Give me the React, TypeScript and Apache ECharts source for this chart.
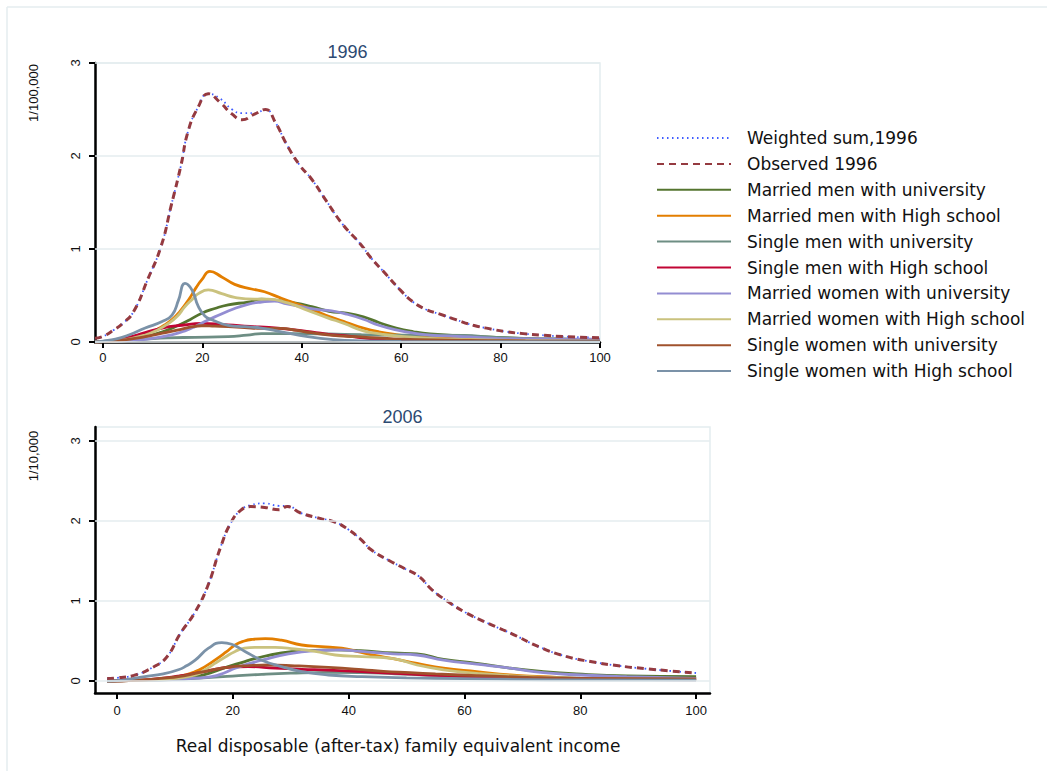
import React, { useEffect, useRef } from "react";
import * as echarts from "echarts";

// ---------- labels ----------
const seriesNames = [
  "Weighted sum,1996",
  "Observed 1996",
  "Married men with university",
  "Married men with High school",
  "Single men with university",
  "Single men with High school",
  "Married women with university",
  "Married women with High school",
  "Single women with university",
  "Single women with High school",
];
const panelTitles = ["1996", "2006"];
const yUnitLabels = ["1/100,000", "1/10,000"];
const xAxisTitle = "Real disposable (after-tax) family equivalent income";
const xTicks = [0, 20, 40, 60, 80, 100];
const yTicks = [0, 1, 2, 3];

// ---------- 1996 panel ----------
const weighted96 = [[-1.6,0.04],[0,0.06],[2.2,0.13],[4,0.2],[6.2,0.33],[8.9,0.66],[11.7,1.03],[13.7,1.46],[15.7,1.9],[17.1,2.26],[19.1,2.52],[21.2,2.67],[23.5,2.62],[26,2.5],[28,2.46],[30.5,2.46],[32.7,2.5],[34.7,2.36],[37,2.12],[39.6,1.9],[42,1.75],[44.9,1.52],[48.3,1.26],[51.7,1.06],[54,0.9],[56.4,0.76],[59.8,0.56],[62.4,0.43],[65,0.35],[67.8,0.3],[71,0.24],[74.5,0.18],[78,0.14],[81.2,0.11],[84.5,0.09],[87.9,0.075],[93.3,0.057],[100,0.045]];
const observed96 = [[-1.6,0.04],[0,0.06],[2.2,0.13],[4,0.2],[6.2,0.33],[8.9,0.66],[11.7,1.03],[13.7,1.46],[15.7,1.9],[17.1,2.26],[19.1,2.52],[21.2,2.67],[23.5,2.58],[26,2.45],[28,2.39],[30.5,2.45],[32.7,2.5],[34.7,2.36],[37,2.12],[39.6,1.9],[42,1.75],[44.9,1.52],[48.3,1.26],[51.7,1.06],[54,0.9],[56.4,0.76],[59.8,0.56],[62.4,0.43],[65,0.35],[67.8,0.3],[71,0.24],[74.5,0.18],[78,0.14],[81.2,0.11],[84.5,0.09],[87.9,0.075],[93.3,0.057],[100,0.045]];
const mmUni96 = [[-1.6,0],[0,0.005],[4,0.02],[8.5,0.06],[12,0.11],[15.2,0.18],[17.5,0.24],[19.9,0.31],[22.5,0.36],[25.2,0.4],[29.2,0.43],[31.9,0.46],[34.5,0.45],[38.5,0.42],[42,0.38],[45.5,0.33],[49,0.31],[52.4,0.27],[55.5,0.21],[59,0.15],[62.5,0.11],[65.8,0.086],[72.5,0.065],[79.3,0.05],[86,0.036],[93,0.03],[100,0.02]];
const mmHS96 = [[-1.6,0],[0,0.005],[3,0.02],[5.2,0.04],[7.5,0.07],[9.9,0.11],[12,0.17],[13.9,0.24],[15.5,0.33],[17.2,0.45],[18.8,0.59],[19.9,0.67],[21.5,0.76],[23.9,0.7],[26.5,0.62],[29.9,0.57],[32.5,0.54],[35.9,0.47],[38.5,0.42],[42.5,0.34],[45.7,0.27],[49,0.21],[52.4,0.15],[55.5,0.11],[59,0.08],[62.5,0.06],[66,0.047],[72,0.035],[80,0.025],[90,0.015],[100,0.01]];
const smUni96 = [[-1.6,0],[0,0.003],[4,0.012],[8.5,0.03],[13,0.045],[18.5,0.05],[25.2,0.057],[29,0.075],[31.9,0.09],[38.5,0.09],[45.2,0.086],[52,0.078],[58,0.075],[65.8,0.075],[72.5,0.07],[79,0.05],[86,0.037],[93,0.03],[100,0.02]];
const smHS96 = [[-1.6,0],[0,0.005],[2.5,0.015],[5.2,0.05],[8.5,0.1],[11.9,0.15],[15.9,0.18],[19.9,0.2],[23.9,0.19],[28.5,0.17],[35.2,0.15],[41.9,0.11],[45.7,0.08],[48.5,0.068],[55,0.03],[62,0.02],[75,0.012],[100,0.005]];
const mwUni96 = [[-1.6,0],[0,0.003],[5,0.015],[10,0.04],[14,0.08],[16.5,0.12],[18.5,0.165],[20.5,0.22],[22.5,0.27],[26.5,0.36],[29.5,0.41],[31.9,0.43],[34.5,0.44],[37,0.41],[39.9,0.38],[43,0.35],[46,0.335],[49,0.3],[52.4,0.245],[55.5,0.18],[59,0.13],[62.5,0.095],[65.8,0.075],[72.5,0.057],[79,0.04],[90,0.033],[100,0.03]];
const mwHS96 = [[-1.6,0],[0,0.003],[4,0.02],[8.5,0.075],[11,0.13],[13.2,0.2],[15,0.28],[16.5,0.38],[18,0.46],[19.2,0.52],[21.2,0.56],[23.9,0.52],[26.5,0.48],[30.5,0.46],[33.2,0.46],[37.2,0.42],[41.2,0.34],[45.2,0.26],[48.5,0.2],[52.4,0.12],[56,0.085],[59,0.065],[65.8,0.04],[75,0.025],[85,0.015],[100,0.01]];
const swUni96 = [[-1.6,0],[0,0.003],[4,0.02],[8.5,0.057],[12,0.095],[15.2,0.13],[17.5,0.16],[19.9,0.175],[22.5,0.17],[25.2,0.165],[28.5,0.155],[31.9,0.147],[35.9,0.147],[39,0.125],[41.9,0.1],[45.7,0.075],[50.5,0.057],[55,0.045],[60,0.03],[70,0.02],[85,0.012],[100,0.008]];
const swHS96 = [[-1.6,0],[0,0.01],[2.5,0.03],[5.2,0.075],[8.5,0.15],[11.9,0.22],[13.9,0.29],[15.2,0.45],[16.5,0.63],[17.9,0.56],[19.2,0.38],[20.5,0.28],[21.9,0.24],[25.2,0.18],[28.5,0.165],[31.9,0.15],[35.9,0.11],[41.2,0.057],[46.5,0.025],[52,0.012],[60,0.006],[80,0.003],[100,0.002]];

// ---------- 2006 panel ----------
const weighted06 = [[-1.7,0.03],[0,0.04],[2.9,0.07],[6.3,0.175],[8.6,0.3],[10.9,0.59],[13.3,0.84],[15.6,1.175],[17.9,1.675],[19.6,1.97],[21.3,2.13],[23.1,2.2],[25.5,2.22],[28,2.19],[29.4,2.19],[31.7,2.1],[35.2,2.03],[37.5,1.99],[39.8,1.9],[42.1,1.77],[43.9,1.64],[46.9,1.51],[49.8,1.4],[52.1,1.31],[54.4,1.14],[57.2,0.99],[60.1,0.86],[64.1,0.72],[68.2,0.59],[72.8,0.43],[77.4,0.31],[82,0.24],[86.6,0.19],[91.1,0.155],[95.7,0.125],[100,0.1]];
const observed06 = [[-1.7,0.03],[0,0.04],[2.9,0.07],[6.3,0.175],[8.6,0.3],[10.9,0.59],[13.3,0.84],[15.6,1.175],[17.9,1.675],[19.6,1.97],[21.3,2.13],[23.1,2.18],[25.5,2.17],[28,2.14],[29.4,2.18],[31.7,2.1],[35.2,2.03],[37.5,1.99],[39.8,1.9],[42.1,1.77],[43.9,1.64],[46.9,1.51],[49.8,1.4],[52.1,1.31],[54.4,1.14],[57.2,0.99],[60.1,0.86],[64.1,0.72],[68.2,0.59],[72.8,0.43],[77.4,0.31],[82,0.24],[86.6,0.19],[91.1,0.155],[95.7,0.125],[100,0.1]];
const mmUni06 = [[-1.7,0],[0,0.003],[5,0.015],[10,0.03],[13.5,0.054],[16.5,0.11],[19.2,0.18],[21.5,0.23],[23.8,0.28],[28.4,0.35],[33,0.38],[37.7,0.39],[42,0.38],[47.7,0.35],[51.8,0.34],[56.4,0.27],[62.1,0.22],[67.9,0.16],[73.6,0.117],[79.4,0.088],[88,0.063],[100,0.054]];
const mmHS06 = [[-1.7,0],[0,0.003],[5,0.012],[8,0.03],[10.6,0.054],[13.5,0.117],[15.2,0.18],[16.9,0.26],[18.8,0.36],[20.4,0.45],[22,0.5],[23.3,0.52],[25.6,0.53],[28.4,0.51],[31.9,0.45],[35.3,0.43],[38.8,0.41],[42,0.36],[44.5,0.32],[47.7,0.28],[51.8,0.22],[56.4,0.16],[62.1,0.117],[67.9,0.075],[73.6,0.054],[79.4,0.033],[88,0.025],[100,0.02]];
const smUni06 = [[-1.7,0],[0,0.002],[5,0.008],[10,0.02],[13.5,0.033],[19,0.058],[25,0.083],[30,0.098],[36.5,0.108],[42,0.105],[48,0.09],[53.6,0.075],[60,0.062],[65,0.054],[72,0.043],[80,0.036],[100,0.03]];
const smHS06 = [[-1.7,0],[0,0.003],[4,0.012],[7.7,0.033],[10.5,0.06],[13.5,0.096],[16.5,0.14],[19.2,0.17],[22.7,0.18],[27.3,0.16],[31.9,0.146],[36.5,0.137],[42.3,0.117],[48,0.095],[53.6,0.075],[59,0.055],[65,0.04],[75,0.025],[100,0.015]];
const mwUni06 = [[-1.7,0],[0,0.002],[5,0.008],[10,0.02],[13.5,0.035],[16.3,0.054],[18.5,0.1],[20.4,0.16],[22.5,0.21],[25,0.26],[29.6,0.34],[34.2,0.38],[38.8,0.39],[42,0.37],[47.7,0.34],[51.8,0.325],[56.4,0.26],[62.1,0.21],[67.9,0.16],[73.6,0.104],[80,0.075],[88,0.054],[100,0.033]];
const mwHS06 = [[-1.7,0],[0,0.002],[5,0.01],[10,0.03],[13.5,0.075],[15.2,0.14],[16.9,0.22],[18.7,0.3],[20.4,0.37],[22,0.41],[23.8,0.42],[27.3,0.42],[30.7,0.4],[34.2,0.37],[37.7,0.325],[42.3,0.305],[47.7,0.28],[51.8,0.2],[56.4,0.14],[62.1,0.096],[70.8,0.054],[80,0.033],[100,0.02]];
const swUni06 = [[-1.7,0],[0,0.003],[5,0.015],[8,0.035],[10.6,0.054],[13.5,0.095],[16.3,0.137],[19,0.17],[22.1,0.19],[26.1,0.2],[30.7,0.19],[36.5,0.17],[42.3,0.142],[46,0.12],[50.6,0.104],[55,0.088],[59.3,0.075],[65,0.06],[70.8,0.046],[80,0.033],[100,0.025]];
const swHS06 = [[-1.7,0],[0,0.005],[4.8,0.054],[8,0.09],[10.6,0.14],[12,0.19],[13.5,0.26],[15.8,0.41],[18.1,0.48],[19.8,0.46],[22.1,0.37],[25,0.26],[28.4,0.18],[31.9,0.117],[36.5,0.075],[42.3,0.054],[50,0.04],[60,0.03],[75,0.015],[100,0.01]];

const panel96 = [weighted96, observed96, mmUni96, mmHS96, smUni96, smHS96, mwUni96, mwHS96, swUni96, swHS96];
const panel06 = [weighted06, observed06, mmUni06, mmHS06, smUni06, smHS06, mwUni06, mwHS06, swUni06, swHS06];

const seriesColors = ["#3f5cff", "#953a40", "#55752f", "#e37e00", "#6e8e84", "#c10534", "#938dd2", "#cac27e", "#a0522d", "#7b92a8"];

const GRID_COLOR = "#e4edef";
const NUM_FONT = "Liberation Sans, Arial, sans-serif";
const TXT_FONT = "DejaVu Sans, sans-serif";

export default function App() {
  const ref = useRef<HTMLDivElement>(null);

  useEffect(() => {
    if (!ref.current) return;
    const chart = echarts.init(ref.current, null, { renderer: "svg" });

    const lineStyleFor = (i: number) => {
      if (i === 0) return { color: seriesColors[i], width: 1.8, type: [1.5, 3.5] as any };
      if (i === 1) return { color: seriesColors[i], width: 3, type: [7, 5] as any };
      return { color: seriesColors[i], width: 2.8, type: "solid" as any };
    };

    const series: any[] = [];
    [panel96, panel06].forEach((panel, g) => {
      series.push({
        type: "line",
        name: "grid" + g,
        xAxisIndex: g,
        yAxisIndex: g,
        data: [[0, 0]],
        symbol: "none",
        lineStyle: { opacity: 0 },
        z: 1,
        silent: true,
        markLine: {
          silent: true,
          symbol: ["none", "none"],
          label: { show: false },
          lineStyle: { color: GRID_COLOR, width: 1.5, type: "solid" },
          data: yTicks.map((v) => ({ yAxis: v })),
        },
      });
      panel.forEach((data, i) => {
        series.push({
          type: "line",
          name: seriesNames[i],
          xAxisIndex: g,
          yAxisIndex: g,
          data,
          smooth: 0.5,
          symbol: "none",
          showSymbol: false,
          lineStyle: lineStyleFor(i),
          itemStyle: { color: seriesColors[i] },
          z: 2 + (i === 1 ? 1 : 0),
        });
      });
    });

    const axisLineStyle = { color: "#000", width: 2.5 };
    const tickStyle = { color: "#000", width: 2 };

    const option: any = {
      animation: false,
      backgroundColor: "#fff",
      grid: [
        { left: 95, top: 63, width: 505, height: 279, show: true, borderColor: GRID_COLOR, borderWidth: 1.5, backgroundColor: "transparent" },
        { left: 95, top: 427, width: 615, height: 266, show: true, borderColor: GRID_COLOR, borderWidth: 1.5, backgroundColor: "transparent" },
      ],
      xAxis: [
        {
          type: "value", gridIndex: 0, min: -1.6, max: 100,
          axisLine: { show: true, onZero: false, lineStyle: axisLineStyle },
          axisTick: { show: true, length: 6, lineStyle: tickStyle, customValues: xTicks },
          axisLabel: { fontSize: 13, color: "#111", fontFamily: NUM_FONT, margin: 9, customValues: xTicks },
          splitLine: { show: false },
        },
        {
          type: "value", gridIndex: 1, min: -3.8, max: 102.4,
          axisLine: { show: true, onZero: false, lineStyle: axisLineStyle },
          axisTick: { show: true, length: 6, lineStyle: tickStyle, customValues: xTicks },
          axisLabel: { fontSize: 13, color: "#111", fontFamily: NUM_FONT, margin: 11, customValues: xTicks },
          splitLine: { show: false },
        },
      ],
      yAxis: [
        {
          type: "value", gridIndex: 0, min: 0, max: 3,
          axisLine: { show: true, onZero: false, lineStyle: axisLineStyle },
          axisTick: { show: true, length: 6, lineStyle: tickStyle, customValues: yTicks },
          axisLabel: { fontSize: 13, color: "#111", fontFamily: NUM_FONT, rotate: 90, margin: 13, customValues: yTicks },
          splitLine: { show: false },
        },
        {
          type: "value", gridIndex: 1, min: -0.15, max: 3.175,
          axisLine: { show: true, onZero: false, lineStyle: axisLineStyle },
          axisTick: { show: true, length: 6, lineStyle: tickStyle, customValues: yTicks },
          axisLabel: { fontSize: 13, color: "#111", fontFamily: NUM_FONT, rotate: 90, margin: 13, customValues: yTicks },
          splitLine: { show: false },
        },
      ],
      legend: {
        orient: "vertical",
        left: 656,
        top: 129.5,
        padding: 0,
        itemWidth: 74,
        itemHeight: 17,
        itemGap: 8.9,
        data: seriesNames,
        itemStyle: { opacity: 0, borderWidth: 0 },
        textStyle: { fontSize: 17, color: "#111", fontFamily: TXT_FONT, lineHeight: 17, padding: [0, 0, 0, 11] },
      },
      graphic: [
        { type: "line", shape: { x1: 7, y1: 7, x2: 1047, y2: 7 }, style: { stroke: GRID_COLOR, lineWidth: 1.5 }, silent: true },
        { type: "line", shape: { x1: 7, y1: 7, x2: 7, y2: 771 }, style: { stroke: GRID_COLOR, lineWidth: 1.5 }, silent: true },
        { type: "text", x: 347.5, y: 52, style: { text: panelTitles[0], fontSize: 18, fontFamily: NUM_FONT, fill: "#2c4a72", textAlign: "center", textVerticalAlign: "middle" } },
        { type: "text", x: 402.5, y: 417, style: { text: panelTitles[1], fontSize: 18, fontFamily: NUM_FONT, fill: "#2c4a72", textAlign: "center", textVerticalAlign: "middle" } },
        { type: "text", x: 33, y: 93, rotation: Math.PI / 2, style: { text: yUnitLabels[0], fontSize: 13, fontFamily: NUM_FONT, fill: "#111", textAlign: "center", textVerticalAlign: "middle" } },
        { type: "text", x: 33, y: 456, rotation: Math.PI / 2, style: { text: yUnitLabels[1], fontSize: 13, fontFamily: NUM_FONT, fill: "#111", textAlign: "center", textVerticalAlign: "middle" } },
        { type: "text", x: 398, y: 746, style: { text: xAxisTitle, fontSize: 17, fontFamily: TXT_FONT, fill: "#111", textAlign: "center", textVerticalAlign: "middle" } },
      ],
      series,
    };

    chart.setOption(option);
    return () => chart.dispose();
  }, []);

  return (
    <div
      ref={ref}
      style={{ position: "fixed", left: 0, top: 0, width: 1047, height: 771, background: "#fff" }}
    />
  );
}
